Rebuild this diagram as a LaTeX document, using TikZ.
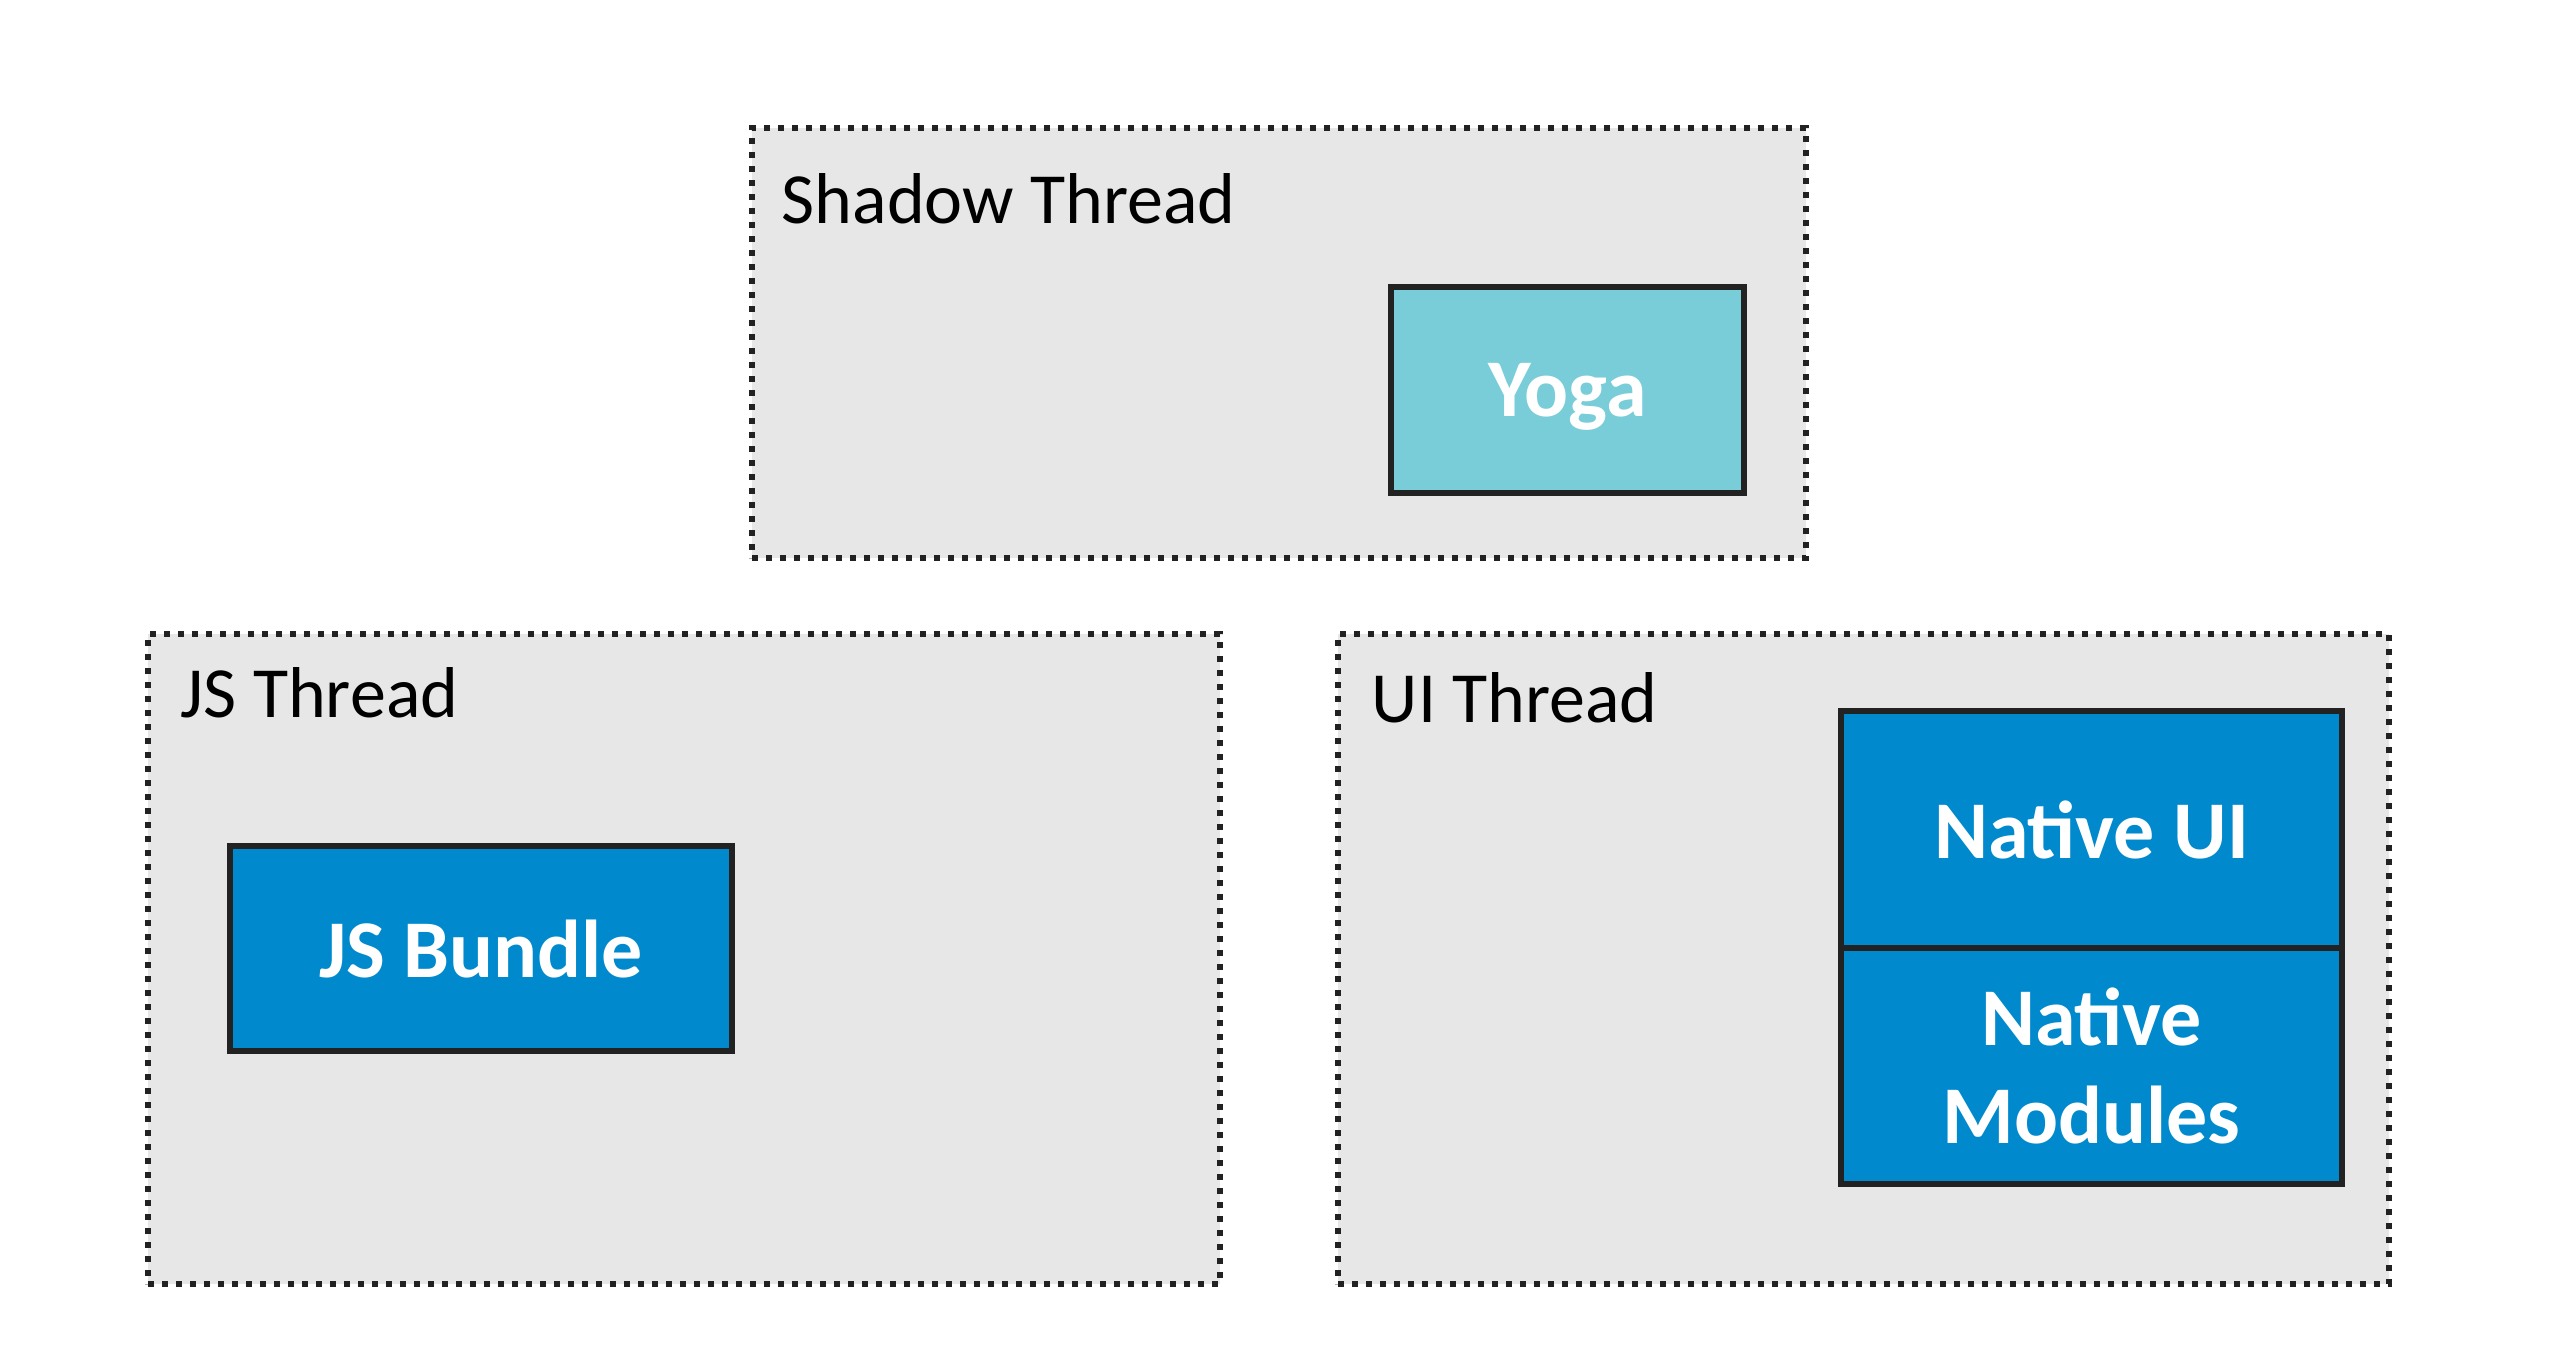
\documentclass[tikz,border=0pt]{standalone}
\usepackage{fontspec}
\setmainfont{Carlito}
\definecolor{greyfill}{HTML}{E7E7E7}
\definecolor{edgecol}{HTML}{222222}
\definecolor{yogacol}{HTML}{78CDD8}
\definecolor{bluecol}{HTML}{008ACD}
\begin{document}
\begin{tikzpicture}[x=0.25pt,y=-0.25pt,
  thread/.style={rectangle, draw=edgecol, fill=greyfill, line width=1.5pt,
    dash pattern=on 1.6pt off 1.9pt, inner sep=0pt},
  comp/.style={rectangle, draw=edgecol, line width=1.6pt, inner sep=0pt,
    text=white, font=\fontsize{20.5pt}{24.6pt}\selectfont\bfseries, align=center},
  tlabel/.style={anchor=base west, inner sep=0pt, font=\fontsize{18pt}{21.6pt}\selectfont}
]
\useasboundingbox (0,0) rectangle (2575,1365);
\fill[white] (0,0) rectangle (2575,1365);

\node[thread, minimum width=263.5pt, minimum height=107.5pt] (shadow) at (1279,343) {};
\node[thread, minimum width=268pt, minimum height=162.5pt] (js) at (684,959) {};
\node[thread, minimum width=262.75pt, minimum height=162.5pt] (ui) at (1863.5,959) {};

\node[tlabel] (shadowlbl) at (781,223) {Shadow Thread};
\node[tlabel] (jslbl) at (180,717) {JS Thread};
\node[tlabel] (uilbl) at (1371,722) {UI Thread};

\node[comp, fill=yogacol, minimum width=88.25pt, minimum height=51.5pt, text depth=0pt] (yoga) at (1567.5,390) {Yoga};
\node[comp, fill=bluecol, minimum width=125.5pt, minimum height=51.25pt] (bundle) at (481,948.5) {JS Bundle};
\node[comp, fill=bluecol, minimum width=125.25pt, minimum height=59.25pt] (nativeui) at (2091.5,829.5) {Native UI};
\node[comp, fill=bluecol, minimum width=125.25pt, minimum height=59pt] (modules) at (2091.5,1066) {Native\\Modules};
\end{tikzpicture}
\end{document}
